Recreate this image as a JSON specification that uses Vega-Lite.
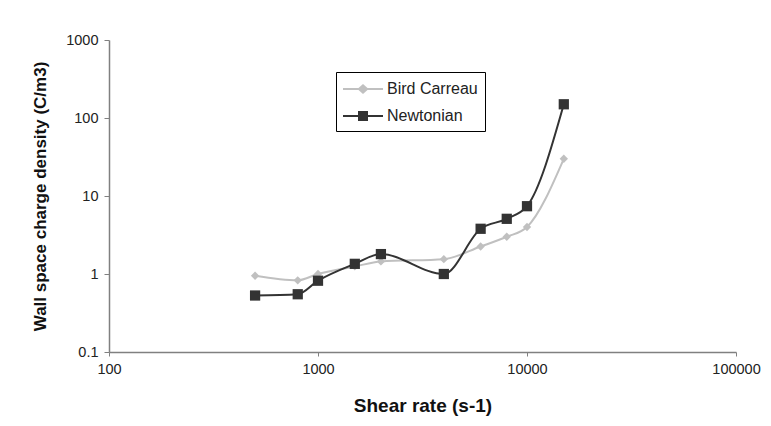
{
  "$schema": "https://vega.github.io/schema/vega-lite/v6.json",
  "width": 627,
  "height": 312,
  "autosize": {"type": "none"},
  "padding": {"left": 109, "top": 40, "right": 35, "bottom": 74},
  "background": "white",
  "config": {
    "view": {"stroke": null},
    "font": "Liberation Sans",
    "axis": {"grid": false, "domainColor": "#808080", "tickColor": "#808080", "domainWidth": 1.5, "tickWidth": 1, "labelColor": "#222222", "labelFontSize": 14.5, "labelFont": "Liberation Sans", "titleFont": "Liberation Sans", "titleFontWeight": "bold", "titleColor": "#111111"}
  },
  "data": {
    "values": [
      {"rate": 500, "density": 0.95, "model": "Bird Carreau"},
      {"rate": 800, "density": 0.83, "model": "Bird Carreau"},
      {"rate": 1000, "density": 1.0, "model": "Bird Carreau"},
      {"rate": 1500, "density": 1.25, "model": "Bird Carreau"},
      {"rate": 2000, "density": 1.45, "model": "Bird Carreau"},
      {"rate": 4000, "density": 1.55, "model": "Bird Carreau"},
      {"rate": 6000, "density": 2.25, "model": "Bird Carreau"},
      {"rate": 8000, "density": 3.0, "model": "Bird Carreau"},
      {"rate": 10000, "density": 4.0, "model": "Bird Carreau"},
      {"rate": 15000, "density": 30, "model": "Bird Carreau"},
      {"rate": 500, "density": 0.53, "model": "Newtonian"},
      {"rate": 800, "density": 0.55, "model": "Newtonian"},
      {"rate": 1000, "density": 0.82, "model": "Newtonian"},
      {"rate": 1500, "density": 1.35, "model": "Newtonian"},
      {"rate": 2000, "density": 1.8, "model": "Newtonian"},
      {"rate": 4000, "density": 1.0, "model": "Newtonian"},
      {"rate": 6000, "density": 3.8, "model": "Newtonian"},
      {"rate": 8000, "density": 5.1, "model": "Newtonian"},
      {"rate": 10000, "density": 7.4, "model": "Newtonian"},
      {"rate": 15000, "density": 150, "model": "Newtonian"}
    ]
  },
  "encoding": {
    "x": {"field": "rate", "type": "quantitative", "title": "Shear rate (s-1)",
      "scale": {"type": "log", "domain": [100, 100000], "nice": false},
      "axis": {"values": [100, 1000, 10000, 100000], "format": "d", "labelPadding": 6, "titlePadding": 21, "titleFontSize": 19, "tickSize": 4, "labelFlush": false}},
    "y": {"field": "density", "type": "quantitative", "title": "Wall space charge density (C/m3)",
      "scale": {"type": "log", "domain": [0.1, 1000], "nice": false},
      "axis": {"values": [0.1, 1, 10, 100, 1000], "format": "~g", "labelPadding": 6, "titlePadding": 16, "titleFontSize": 17, "tickSize": 5, "labelFlush": false}},
    "color": {"field": "model", "type": "nominal", "title": null,
      "scale": {"domain": ["Bird Carreau", "Newtonian"], "range": ["#c0c0c0", "#333333"]},
      "legend": null}
  },
  "resolve": {"scale": {"shape": "independent"}, "legend": {"color": "independent", "shape": "independent"}},
  "layer": [
    {"mark": {"type": "line", "interpolate": "monotone", "strokeWidth": 2}},
    {"mark": {"type": "point", "filled": true, "opacity": 1},
     "encoding": {
       "shape": {"field": "model", "type": "nominal", "title": null, "legend": null,
         "scale": {"domain": ["Bird Carreau", "Newtonian"], "range": ["diamond", "square"]}},
       "size": {"condition": {"test": "datum.model === 'Newtonian'", "value": 105}, "value": 70}
     }},
    {"mark": {"type": "point", "filled": true, "opacity": 0},
     "encoding": {
       "color": {"field": "model", "type": "nominal", "title": null,
         "legend": {
           "orient": "none", "legendX": 227, "legendY": 32,
           "strokeColor": "#000000", "padding": 7, "fillColor": "white",
           "labelFontSize": 16, "labelColor": "#222222", "labelFont": "Liberation Sans",
           "symbolSize": 400, "symbolOpacity": 1, "symbolStrokeWidth": 0, "symbolOffset": 10, "labelOffset": 14, "rowPadding": 9}},
       "shape": {"field": "model", "type": "nominal", "title": null,
         "scale": {"domain": ["Bird Carreau", "Newtonian"], "range": [
           "M-2,-0.1L-0.45,-0.1L0,-0.5L0.45,-0.1L2,-0.1L2,0.1L0.45,0.1L0,0.5L-0.45,0.1L-2,0.1Z",
           "M-2,-0.1L-0.5,-0.1L-0.5,-0.5L0.5,-0.5L0.5,-0.1L2,-0.1L2,0.1L0.5,0.1L0.5,0.5L-0.5,0.5L-0.5,0.1L-2,0.1Z"]},
         "legend": {
           "orient": "none", "legendX": 227, "legendY": 32,
           "strokeColor": "#000000", "padding": 7, "fillColor": "white",
           "labelFontSize": 16, "labelColor": "#222222", "labelFont": "Liberation Sans",
           "symbolSize": 400, "symbolOpacity": 1, "symbolStrokeWidth": 0, "symbolOffset": 10, "labelOffset": 14, "rowPadding": 9}}
     }}
  ]
}
